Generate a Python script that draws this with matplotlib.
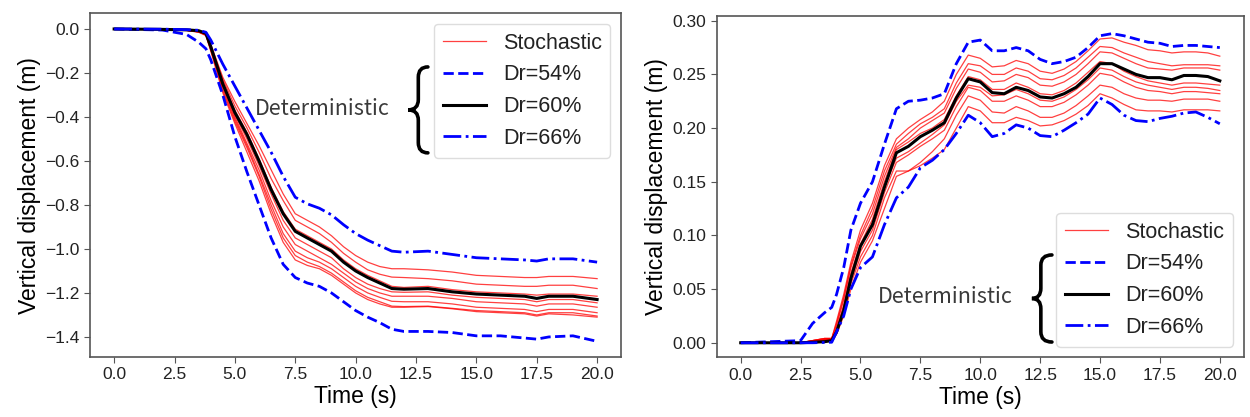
import matplotlib

matplotlib.use("Agg")

import matplotlib.pyplot as plt
from matplotlib.patches import PathPatch
from matplotlib.path import Path

# ---- settlement (left panel) ----
t_settle = [0, 2, 3, 3.5, 3.8, 4, 4.5, 5, 5.5, 6, 6.5, 7, 7.5, 8, 8.5, 9, 9.5, 10,
            10.5, 11, 11.5, 12, 13, 14, 15, 16, 17, 17.5, 18, 19, 20]

settle_dr54 = [0, -0.005, -0.025, -0.06, -0.09, -0.14, -0.30, -0.49, -0.65, -0.80, -0.95,
               -1.07, -1.13, -1.155, -1.17, -1.20, -1.24, -1.28, -1.31, -1.335, -1.365,
               -1.375, -1.375, -1.38, -1.395, -1.395, -1.405, -1.41, -1.40, -1.395, -1.42]
settle_dr60 = [0, -0.002, -0.004, -0.008, -0.02, -0.08, -0.25, -0.38, -0.48, -0.60, -0.73,
               -0.84, -0.92, -0.95, -0.98, -1.01, -1.06, -1.10, -1.13, -1.155, -1.18,
               -1.183, -1.18, -1.195, -1.205, -1.21, -1.215, -1.225, -1.215, -1.215, -1.23]
settle_dr66 = [0, -0.001, -0.003, -0.006, -0.015, -0.05, -0.16, -0.26, -0.36, -0.46, -0.56,
               -0.67, -0.765, -0.795, -0.815, -0.845, -0.89, -0.93, -0.96, -0.985, -1.01,
               -1.015, -1.01, -1.025, -1.04, -1.045, -1.05, -1.055, -1.045, -1.045, -1.06]

settle_stoch = [
    [0, -0.002, -0.005, -0.01, -0.025, -0.07, -0.22, -0.33, -0.43, -0.53, -0.64, -0.75, -0.84,
     -0.87, -0.90, -0.94, -0.99, -1.03, -1.06, -1.08, -1.09, -1.09, -1.095, -1.105, -1.12,
     -1.125, -1.13, -1.13, -1.125, -1.125, -1.135],
    [0, -0.002, -0.005, -0.011, -0.025, -0.075, -0.23, -0.35, -0.45, -0.56, -0.68, -0.78, -0.87,
     -0.90, -0.93, -0.97, -1.02, -1.06, -1.095, -1.115, -1.128, -1.13, -1.135, -1.145, -1.16,
     -1.165, -1.17, -1.17, -1.165, -1.165, -1.18],
    [0, -0.002, -0.006, -0.012, -0.025, -0.08, -0.24, -0.37, -0.47, -0.59, -0.72, -0.83, -0.91,
     -0.94, -0.97, -1.0, -1.05, -1.09, -1.12, -1.145, -1.17, -1.175, -1.17, -1.185, -1.195,
     -1.2, -1.205, -1.21, -1.205, -1.205, -1.215],
    [0, -0.002, -0.006, -0.012, -0.025, -0.085, -0.25, -0.39, -0.50, -0.62, -0.75, -0.87, -0.95,
     -0.98, -1.01, -1.04, -1.09, -1.13, -1.16, -1.18, -1.195, -1.197, -1.195, -1.21, -1.22,
     -1.225, -1.23, -1.24, -1.23, -1.23, -1.245],
    [0, -0.002, -0.006, -0.013, -0.026, -0.09, -0.26, -0.40, -0.52, -0.64, -0.78, -0.90, -0.98,
     -1.01, -1.04, -1.07, -1.11, -1.15, -1.18, -1.20, -1.215, -1.215, -1.215, -1.225, -1.24,
     -1.245, -1.25, -1.26, -1.25, -1.25, -1.265],
    [0, -0.002, -0.006, -0.013, -0.027, -0.09, -0.27, -0.41, -0.53, -0.66, -0.80, -0.93, -1.01,
     -1.04, -1.06, -1.09, -1.13, -1.17, -1.20, -1.22, -1.238, -1.24, -1.24, -1.25, -1.265,
     -1.27, -1.275, -1.285, -1.275, -1.275, -1.29],
    [0, -0.002, -0.006, -0.014, -0.028, -0.095, -0.28, -0.42, -0.54, -0.67, -0.82, -0.95, -1.03,
     -1.06, -1.08, -1.11, -1.15, -1.19, -1.22, -1.24, -1.26, -1.262, -1.26, -1.27, -1.28,
     -1.285, -1.29, -1.30, -1.29, -1.29, -1.305],
    [0, -0.002, -0.007, -0.015, -0.03, -0.10, -0.29, -0.43, -0.56, -0.69, -0.84, -0.97, -1.05,
     -1.075, -1.09, -1.12, -1.16, -1.20, -1.23, -1.25, -1.265, -1.265, -1.262, -1.272, -1.285,
     -1.29, -1.295, -1.305, -1.295, -1.30, -1.31],
]

# ---- heave (right panel) ----
t_heave = [0, 2.5, 3.0, 3.5, 3.8, 4.0, 4.3, 4.6, 5.0, 5.5, 6.0, 6.5, 7.0, 7.5, 8.0, 8.5,
           9.0, 9.5, 10.0, 10.5, 11.0, 11.5, 12.0, 12.5, 13.0, 13.5, 14.0, 14.5, 15.0,
           15.5, 16.0, 16.5, 17.0, 17.5, 18.0, 18.5, 19.0, 19.5, 20.0]

heave_dr54 = [0, 0.002, 0.018, 0.028, 0.033, 0.045, 0.07, 0.105, 0.13, 0.15, 0.185, 0.218,
              0.225, 0.226, 0.228, 0.232, 0.26, 0.28, 0.282, 0.272, 0.272, 0.275, 0.272,
              0.264, 0.26, 0.262, 0.266, 0.275, 0.286, 0.288, 0.286, 0.283, 0.28, 0.279,
              0.276, 0.277, 0.277, 0.276, 0.275]
heave_dr60 = [0, 0, 0.0005, 0.001, 0.002, 0.01, 0.03, 0.06, 0.09, 0.11, 0.145, 0.177,
              0.183, 0.192, 0.198, 0.205, 0.228, 0.246, 0.243, 0.233, 0.232, 0.238, 0.235,
              0.229, 0.228, 0.232, 0.238, 0.248, 0.26, 0.26, 0.255, 0.25, 0.247, 0.247,
              0.245, 0.249, 0.249, 0.248, 0.244]
heave_dr66 = [0, 0, 0, 0.0003, 0.0005, 0.01, 0.025, 0.05, 0.07, 0.08, 0.11, 0.135, 0.145,
              0.163, 0.17, 0.18, 0.195, 0.212, 0.205, 0.192, 0.195, 0.203, 0.2, 0.193,
              0.192, 0.198, 0.205, 0.213, 0.228, 0.222, 0.212, 0.207, 0.206, 0.209, 0.211,
              0.214, 0.215, 0.21, 0.204]

heave_stoch = [
    [0, 0, 0.002, 0.004, 0.004, 0.02, 0.045, 0.075, 0.105, 0.13, 0.165, 0.19, 0.2, 0.208,
     0.215, 0.225, 0.25, 0.268, 0.265, 0.257, 0.258, 0.263, 0.26, 0.253, 0.251, 0.255, 0.262,
     0.272, 0.283, 0.284, 0.28, 0.277, 0.273, 0.272, 0.27, 0.271, 0.271, 0.27, 0.267],
    [0, 0, 0.002, 0.004, 0.004, 0.018, 0.042, 0.072, 0.1, 0.125, 0.16, 0.185, 0.195, 0.204,
     0.21, 0.218, 0.242, 0.26, 0.258, 0.25, 0.25, 0.256, 0.253, 0.246, 0.245, 0.249, 0.256,
     0.266, 0.276, 0.275, 0.27, 0.266, 0.262, 0.26, 0.258, 0.259, 0.259, 0.259, 0.258],
    [0, 0, 0.002, 0.004, 0.004, 0.016, 0.04, 0.07, 0.097, 0.12, 0.155, 0.182, 0.19, 0.2,
     0.207, 0.214, 0.237, 0.255, 0.252, 0.243, 0.244, 0.25, 0.247, 0.24, 0.239, 0.243, 0.25,
     0.26, 0.271, 0.27, 0.265, 0.26, 0.256, 0.255, 0.254, 0.256, 0.256, 0.256, 0.254],
    [0, 0, 0.002, 0.003, 0.004, 0.013, 0.035, 0.065, 0.092, 0.115, 0.15, 0.18, 0.187, 0.195,
     0.2, 0.208, 0.23, 0.248, 0.245, 0.236, 0.236, 0.242, 0.238, 0.232, 0.231, 0.235, 0.242,
     0.252, 0.262, 0.26, 0.253, 0.248, 0.244, 0.242, 0.24, 0.242, 0.242, 0.241, 0.24],
    [0, 0, 0.001, 0.003, 0.004, 0.012, 0.033, 0.062, 0.09, 0.112, 0.145, 0.172, 0.178, 0.186,
     0.194, 0.203, 0.225, 0.24, 0.238, 0.23, 0.231, 0.236, 0.232, 0.226, 0.225, 0.229, 0.236,
     0.245, 0.256, 0.254, 0.248, 0.243, 0.24, 0.238, 0.236, 0.238, 0.238, 0.237, 0.235],
    [0, 0, 0.001, 0.003, 0.003, 0.01, 0.03, 0.058, 0.085, 0.105, 0.14, 0.168, 0.175, 0.183,
     0.19, 0.198, 0.22, 0.238, 0.235, 0.225, 0.225, 0.23, 0.226, 0.22, 0.22, 0.224, 0.231,
     0.24, 0.251, 0.249, 0.243, 0.238, 0.235, 0.234, 0.232, 0.234, 0.234, 0.233, 0.232],
    [0, 0, 0.001, 0.002, 0.003, 0.01, 0.028, 0.055, 0.08, 0.1, 0.135, 0.16, 0.16, 0.168,
     0.178, 0.19, 0.212, 0.23, 0.226, 0.215, 0.214, 0.22, 0.216, 0.21, 0.21, 0.214, 0.221,
     0.23, 0.24, 0.238, 0.232, 0.228, 0.226, 0.226, 0.225, 0.227, 0.227, 0.227, 0.225],
    [0, 0, 0.001, 0.002, 0.003, 0.008, 0.025, 0.05, 0.075, 0.095, 0.125, 0.155, 0.16, 0.165,
     0.172, 0.18, 0.2, 0.22, 0.216, 0.205, 0.205, 0.21, 0.207, 0.202, 0.203, 0.207, 0.213,
     0.221, 0.232, 0.228, 0.222, 0.217, 0.216, 0.216, 0.215, 0.217, 0.217, 0.217, 0.216],
]

x_ticks = [0.0, 2.5, 5.0, 7.5, 10.0, 12.5, 15.0, 17.5, 20.0]
label_text = "Deterministic"

plt.rcParams["font.family"] = ["Liberation Sans", "DejaVu Sans"]
SPINE = "#555555"


def add_brace(ax, x_spine, x_tip, x_hook, y_top, y_bot, r=0.035):
    y_mid = (y_top + y_bot) / 2
    verts = [
        (x_hook, y_top), (x_spine, y_top), (x_spine, y_top - r),
        (x_spine, y_mid + r),
        (x_spine, y_mid), (x_tip, y_mid),
        (x_spine, y_mid), (x_spine, y_mid - r),
        (x_spine, y_bot + r),
        (x_spine, y_bot), (x_hook, y_bot),
    ]
    codes = [Path.MOVETO, Path.CURVE3, Path.CURVE3, Path.LINETO, Path.CURVE3, Path.CURVE3,
             Path.CURVE3, Path.CURVE3, Path.LINETO, Path.CURVE3, Path.CURVE3]
    patch = PathPatch(Path(verts, codes), fill=False, lw=2.6, color="black",
                      transform=ax.transAxes, clip_on=False, capstyle="round")
    ax.add_patch(patch)


def draw_panel(ax, t, stoch, dr54, dr60, dr66, legend_loc):
    for i, curve in enumerate(stoch):
        ax.plot(t, curve, color="red", lw=0.9, alpha=0.75,
                label="Stochastic" if i == 0 else None)
    ax.plot(t, dr54, color="blue", lw=2.0, ls="--", label="Dr=54%")
    ax.plot(t, dr60, color="black", lw=2.2, label="Dr=60%")
    ax.plot(t, dr66, color="blue", lw=2.0, ls="-.", label="Dr=66%")
    ax.set_xlim(-1, 21)
    ax.set_xticks(x_ticks)
    ax.set_xlabel("Time (s)", fontsize=16.5, labelpad=2)
    ax.set_ylabel("Vertical displacement (m)", fontsize=16.5, labelpad=3)
    ax.tick_params(labelsize=12.5, color=SPINE, length=4, labelcolor="#222222")
    for spine in ax.spines.values():
        spine.set_color(SPINE)
        spine.set_linewidth(1.2)
    leg = ax.legend(loc=legend_loc, fontsize=15.5, handlelength=2.0, framealpha=1.0)
    leg.get_frame().set_edgecolor("#dddddd")
    for txt in leg.get_texts():
        txt.set_color("#222222")
    return leg


def main():
    fig = plt.figure(figsize=(12.5, 4.17), dpi=100)
    ax_l = fig.add_axes([0.072, 0.144, 0.425, 0.824])
    ax_r = fig.add_axes([0.5734, 0.143, 0.4216, 0.8186])

    draw_panel(ax_l, t_settle, settle_stoch, settle_dr54, settle_dr60, settle_dr66, "upper right")
    ax_l.set_yticks([0.0, -0.2, -0.4, -0.6, -0.8, -1.0, -1.2, -1.4])
    ax_l.set_yticklabels(["0.0", "\u22120.2", "\u22120.4", "\u22120.6", "\u22120.8",
                          "\u22121.0", "\u22121.2", "\u22121.4"])
    add_brace(ax_l, 0.618, 0.599, 0.636, 0.844, 0.594, r=0.03)
    ax_l.text(0.437, 0.722, label_text, transform=ax_l.transAxes, ha="center", va="center",
              fontsize=15.5, color="#3a3a3a", family=["Noto Sans CJK JP", "DejaVu Sans"])

    draw_panel(ax_r, t_heave, heave_stoch, heave_dr54, heave_dr60, heave_dr66, "lower right")
    ax_r.set_ylim(-0.0136, 0.3044)
    ax_r.set_yticks([0.0, 0.05, 0.10, 0.15, 0.20, 0.25, 0.30])
    ax_r.set_yticklabels(["0.00", "0.05", "0.10", "0.15", "0.20", "0.25", "0.30"])
    add_brace(ax_r, 0.615, 0.598, 0.636, 0.300, 0.045, r=0.03)
    ax_r.text(0.434, 0.178, label_text, transform=ax_r.transAxes, ha="center", va="center",
              fontsize=15.5, color="#3a3a3a", family=["Noto Sans CJK JP", "DejaVu Sans"])

    fig.savefig("out.png", dpi=100, facecolor="white")
    plt.close(fig)


if __name__ == "__main__":
    main()
